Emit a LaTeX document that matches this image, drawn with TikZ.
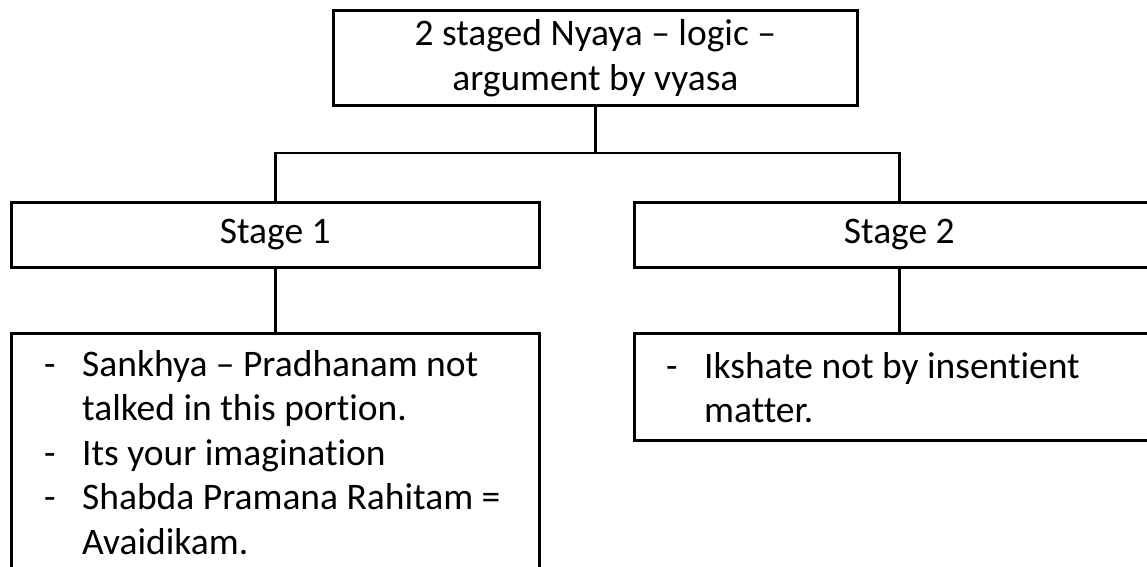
\documentclass[tikz,border=0pt]{standalone}
\usepackage{fontspec}
\setmainfont{Carlito}[Ligatures=NoCommon]
\usepackage{array}
\begin{document}
\begin{tikzpicture}[x=1pt,y=-1pt,
  box/.style={draw=black,line width=2.6pt,rectangle,inner sep=0pt,anchor=north west,
    font=\fontsize{37.5}{45}\selectfont,align=center},
  link/.style={draw=black,line width=2.6pt},
  listtext/.style={inner sep=0pt,anchor=base west,font=\fontsize{37.5}{44.5}\selectfont}]
\useasboundingbox (0,0) rectangle (1147,566);

% title box
\node[box,minimum width=524pt,minimum height=95pt] (root) at (332,9)
  {2 staged Nyaya -- logic --\\argument by vyasa};

% the two stages
\node[box,minimum width=528pt,minimum height=65pt] (s1) at (10,201) {Stage 1};
\node[box,minimum width=530pt,minimum height=65pt] (s2) at (633,201) {Stage 2};

% detail boxes
\node[box,minimum width=528pt,minimum height=280pt] (d1) at (10,332) {};
\node[box,minimum width=530pt,minimum height=107pt] (d2) at (633,332) {};

\node[listtext] (t1) at (44,376) {%
  \begin{tabular}[t]{@{}p{38pt}@{}l@{}}
  - & Sankhya -- Pradhanam not\\
    & talked in this portion.\\
  - & Its your imagination\\
  - & Shabda Pramana Rahitam =\\
    & Avaidikam.
  \end{tabular}};
\node[listtext] (t2) at (666,378) {%
  \begin{tabular}[t]{@{}p{38pt}@{}l@{}}
  - & Ikshate not by insentient\\
    & matter.
  \end{tabular}};

% connectors
\coordinate (bar) at (root.south |- 0,153);
\draw[link] (root.south) -- (bar);
\draw[link] (s1.north) |- (bar) -| (s2.north);
\draw[link] (s1.south) -- (d1.north -| s1.south);
\draw[link] (s2.south) -- (d2.north -| s2.south);
\end{tikzpicture}
\end{document}
